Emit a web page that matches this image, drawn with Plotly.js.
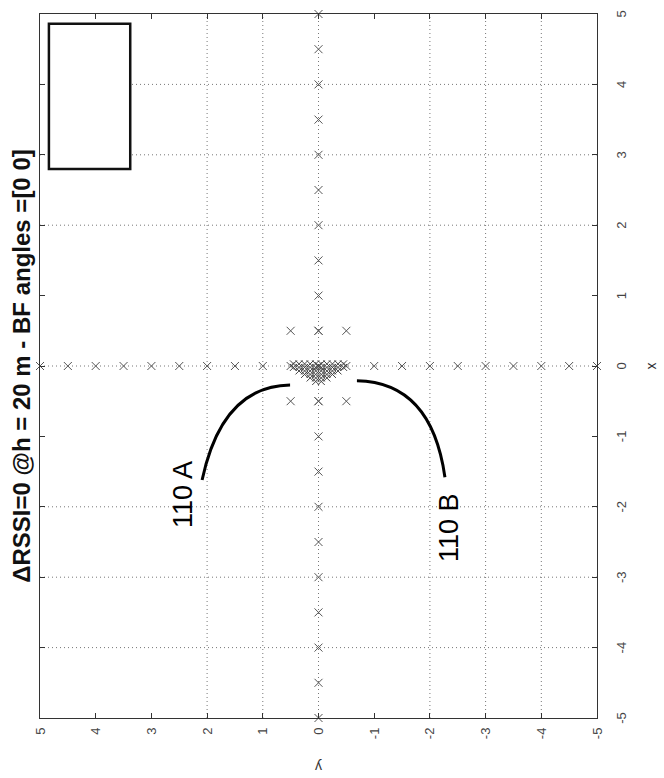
<!DOCTYPE html>
<html>
<head>
<meta charset="utf-8">
<script src="https://cdn.plot.ly/plotly-3.0.1.min.js"></script>
<style>
html,body{margin:0;padding:0;overflow:hidden;background:#fff;width:664px;height:778px;}
#wrap{position:absolute;left:0;top:0;width:778px;height:664px;transform-origin:0 0;transform:translate(0,778px) rotate(-90deg);}
#chart{width:778px;height:664px;}
</style>
</head>
<body>
<div id="wrap"><div id="chart"></div></div>
<script>
// Data (original, unrotated chart coordinates)
const tickVals = [-5,-4,-3,-2,-1,0,1,2,3,4,5];
const tickText = ['-5','-4','-3','-2','-1','0','1','2','3','4','5'];
const gridX = [-4,-3,-2,0,2,3,4];
const gridY = [-4,-3,-2,0,1,2];

// markers along x axis (y = 0)
const colX = [-5,-4.5,-4,-3.5,-3,-2.5,-2,-1.5,-1,-0.5,0,0.5,1,1.5,2,2.5,3,3.5,4,4.5,5];
const colY = [0,0,0,0,0,0,0,0,0,0,0,0,0,0,0,0,0,0,0,0,0];
// markers along y axis (x = 0)
const rowX = [0,0,0,0,0,0,0,0,0,0,0,0,0,0,0,0,0,0,0,0,0];
const rowY = [-5,-4.5,-4,-3.5,-3,-2.5,-2,-1.5,-1,-0.5,0,0.5,1,1.5,2,2.5,3,3.5,4,4.5,5];
// ring of markers around origin
const ringX = [0.5,0.5,0.5,-0.5,-0.5,-0.5];
const ringY = [0.5,0,-0.5,0.5,0,-0.5];
// dense cluster near origin
const clusterX = [0.03,-0.02, 0.03,-0.02,-0.07, 0.03,-0.02,-0.07,-0.12, 0.03,-0.02,-0.07,-0.12,-0.17,
                  0.03,-0.02,-0.07,-0.12,-0.17,-0.22, 0.03,-0.02,-0.07,-0.12,-0.17,-0.22, 0.03,-0.02,-0.07,-0.12,-0.17,
                  0.03,-0.02,-0.07,-0.12, 0.03,-0.02,-0.07, 0.03,-0.02];
const clusterY = [0.45,0.45, 0.35,0.35,0.35, 0.25,0.25,0.25,0.25, 0.15,0.15,0.15,0.15,0.15,
                  0.05,0.05,0.05,0.05,0.05,0.05, -0.05,-0.05,-0.05,-0.05,-0.05,-0.05, -0.15,-0.15,-0.15,-0.15,-0.15,
                  -0.25,-0.25,-0.25,-0.25, -0.35,-0.35,-0.35, -0.45,-0.45];

// reference-label curves (start, control, end) in data coords
const curveA = [[-1.62,2.09],[-0.284,1.73],[-0.27,0.51]];
const curveB = [[-0.21,-0.69],[-0.23,-2.03],[-1.58,-2.27]];
const labelA = {text:'110 A', x:-1.83, y:2.43};
const labelB = {text:'110 B', x:-2.30, y:-2.34};

const titleText = '<b>\u0394RSSI=0 @h = 20 m - BF angles =[0 0]</b>';

const mk = {symbol:'x-thin', size:8, color:'#555', line:{width:1, color:'#555'}};
const traces = [
  {x:colX, y:colY, mode:'markers', type:'scatter', marker:mk, cliponaxis:false, showlegend:false, hoverinfo:'skip'},
  {x:rowX, y:rowY, mode:'markers', type:'scatter', marker:mk, cliponaxis:false, showlegend:false, hoverinfo:'skip'},
  {x:ringX, y:ringY, mode:'markers', type:'scatter', marker:mk, cliponaxis:false, showlegend:false, hoverinfo:'skip'},
  {x:clusterX, y:clusterY, mode:'markers', type:'scatter', marker:{symbol:'x-thin', size:7, color:'#444', line:{width:1, color:'#444'}}, cliponaxis:false, showlegend:false, hoverinfo:'skip'}
];

function qpath(c){
  return 'M'+c[0][0]+','+c[0][1]+' Q'+c[1][0]+','+c[1][1]+' '+c[2][0]+','+c[2][1];
}

const gridStyle = {color:'#777', width:1, dash:'1px,3px'};
const shapes = [];
gridX.forEach(v => shapes.push({type:'line', xref:'x', yref:'y', x0:v, x1:v, y0:-5, y1:5, line:gridStyle, layer:'below'}));
gridY.forEach(v => shapes.push({type:'line', xref:'x', yref:'y', x0:-5, x1:5, y0:v, y1:v, line:gridStyle, layer:'below'}));
shapes.push({type:'rect', xref:'paper', yref:'paper', x0:0.78, x1:0.986, y0:0.838, y1:0.984, line:{color:'#111', width:2.5}, fillcolor:'#fff', layer:'above'});
shapes.push({type:'path', xref:'x', yref:'y', path:qpath(curveA), line:{color:'#000', width:3}});
shapes.push({type:'path', xref:'x', yref:'y', path:qpath(curveB), line:{color:'#000', width:3}});

const font = 'Liberation Sans, Arial, sans-serif';
const layout = {
  width:778, height:664,
  margin:{l:60, r:14, t:40, b:67},
  paper_bgcolor:'#fff', plot_bgcolor:'#fff',
  showlegend:false,
  title:{text:titleText, font:{family:font, size:24, color:'#111'}, x:0.5, xref:'paper', y:1-22/664, yref:'container', yanchor:'middle'},
  xaxis:{range:[-5,5], tickvals:tickVals, ticktext:tickText, showgrid:false, zeroline:false, showline:true, mirror:'ticks', linecolor:'#333', linewidth:1,
         ticks:'inside', ticklen:5, tickcolor:'#333', tickfont:{family:font, size:13, color:'#444'}, ticklabelstandoff:12,
         title:{text:'x', font:{family:font, size:14, color:'#333'}, standoff:18}},
  yaxis:{range:[-5,5], tickvals:tickVals, ticktext:tickText, showgrid:false, zeroline:false, showline:true, mirror:'ticks', linecolor:'#333', linewidth:1,
         ticks:'inside', ticklen:5, tickcolor:'#333', tickfont:{family:font, size:13, color:'#444'}, ticklabelstandoff:6,
         title:{text:'y', font:{family:font, size:14, color:'#333'}, standoff:18}},
  shapes:shapes,
  annotations:[
    {text:labelA.text, x:labelA.x, y:labelA.y, xref:'x', yref:'y', showarrow:false, font:{family:font, size:27, color:'#000'}},
    {text:labelB.text, x:labelB.x, y:labelB.y, xref:'x', yref:'y', showarrow:false, font:{family:font, size:27, color:'#000'}}
  ]
};

Plotly.newPlot('chart', traces, layout, {displayModeBar:false, staticPlot:true});
</script>
</body>
</html>
